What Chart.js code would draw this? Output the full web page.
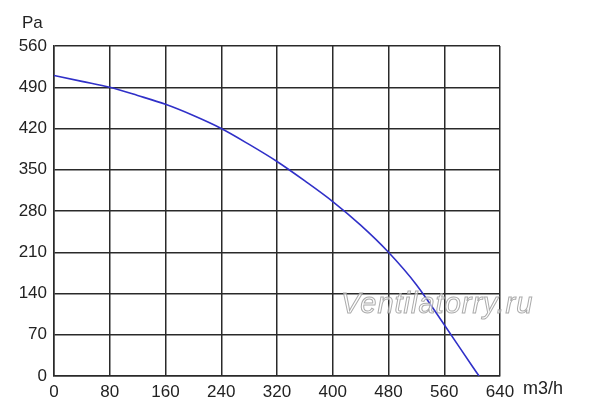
<!DOCTYPE html>
<html><head><meta charset="utf-8">
<script src="https://cdn.jsdelivr.net/npm/chart.js@4/dist/chart.umd.min.js"></script>
<style>html,body{margin:0;padding:0;background:#fff}#wrap{width:600px;height:412px}</style>
</head><body><div id="wrap"><canvas id="c" width="600" height="412"></canvas></div>
<script>
const flowValues = [0, 40, 80, 120, 160, 200, 240, 280, 320, 360, 400, 440, 480, 520, 560, 600, 610];
const pressureValues = [510, 500, 490, 476, 461, 442, 420, 393, 364, 331, 296, 256, 210, 155, 87, 17, 0];
const xTicks = [0, 80, 160, 240, 320, 400, 480, 560, 640];
const yTicks = [0, 70, 140, 210, 280, 350, 420, 490, 560];
const xUnit = 'm3/h';
const yUnit = 'Pa';
const watermark = 'Ventilatorry.ru';

const FONT = '"Liberation Sans", Arial, sans-serif';
const extras = {
  id: 'extras',
  afterDraw(chart) {
    const ctx = chart.ctx, a = chart.chartArea;
    ctx.save();
    ctx.fillStyle = '#222';
    ctx.font = '18px ' + FONT;
    ctx.textBaseline = 'middle';
    ctx.textAlign = 'left';
    ctx.fillText(xUnit, a.right + 23, a.bottom + 13);
    ctx.font = '17px ' + FONT;
    ctx.fillText(yUnit, 22, a.top - 23);
    // watermark
    ctx.font = 'italic 29px ' + FONT;
    ctx.textAlign = 'left';
    ctx.textBaseline = 'alphabetic';
    try { ctx.letterSpacing = '1px'; } catch (e) {}
    ctx.fillStyle = 'rgba(255,255,255,0.6)';
    ctx.fillText(watermark, 341, 313);
    ctx.strokeStyle = 'rgba(150,150,150,0.8)';
    ctx.lineWidth = 1;
    ctx.strokeText(watermark, 341, 313);
    ctx.restore();
  }
};

new Chart(document.getElementById('c'), {
  type: 'line',
  data: {
    datasets: [{
      data: flowValues.map((x, i) => ({x, y: pressureValues[i]})),
      borderColor: '#3030c8',
      borderWidth: 1.6,
      pointRadius: 0,
      tension: 0.4,
      cubicInterpolationMode: 'monotone',
      fill: false
    }]
  },
  options: {
    responsive: false,
    animation: false,
    layout: { padding: { top: 46, right: 100, left: 0, bottom: 0 } },
    plugins: { legend: { display: false }, tooltip: { enabled: false } },
    scales: {
      x: {
        type: 'linear', min: 0, max: 640,
        afterBuildTicks: s => { s.ticks = xTicks.map(v => ({value: v})); },
        afterFit: s => { s.height = 36; },
        grid: { color: '#2a2a2a', lineWidth: 1.5, drawTicks: false },
        border: { color: '#2a2a2a', width: 1.5 },
        ticks: { color: '#222', font: { family: FONT, size: 17 }, padding: 6, maxRotation: 0, autoSkip: false }
      },
      y: {
        type: 'linear', min: 0, max: 560,
        afterBuildTicks: s => { s.ticks = yTicks.map(v => ({value: v})); },
        afterFit: s => { s.width = 54; },
        grid: { color: '#2a2a2a', lineWidth: 1.5, drawTicks: false },
        border: { color: '#2a2a2a', width: 1.5 },
        ticks: { color: '#222', font: { family: FONT, size: 17 }, padding: 7, autoSkip: false }
      }
    }
  },
  plugins: [extras]
});
</script></body></html>
